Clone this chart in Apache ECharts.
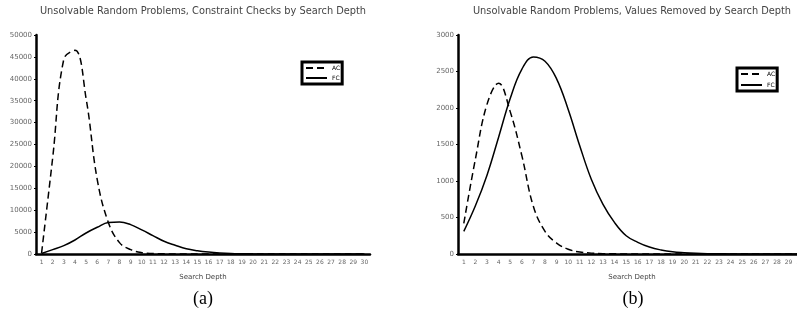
<!DOCTYPE html>
<html style="height: 100%">
<head>
    <meta charset="utf-8">
    <script src="https://cdn.jsdelivr.net/npm/echarts@6/dist/echarts.min.js"></script>
</head>
<body style="height: 100%; margin: 0; background: #fff;">
<div id="container" style="width: 797px; height: 313px;"></div>
<script type="text/javascript">
    // search depth categories
    var depthA = [];
    for (var i = 1; i <= 30; i++) depthA.push(String(i));
    var depthB = depthA.slice();

    // (a) constraint checks
    var acChecks = [200, 22000, 44500, 46500, 35500, 17000, 7200, 2600, 1000, 300,
                    100, 40, 15, 5, 0, 0, 0, 0, 0, 0, 0, 0, 0, 0, 0, 0, 0, 0, 0, 0];
    var fcChecks = [100, 1000, 1900, 3200, 4800, 6100, 7200, 7300, 6700, 5500,
                    4200, 2900, 2000, 1200, 750, 450, 250, 120, 60, 30,
                    15, 8, 4, 2, 0, 0, 0, 0, 0, 0];

    // (b) values removed
    var acRemoved = [420, 1300, 2050, 2340, 1950, 1350, 650, 310, 150, 65,
                     27, 12, 5, 2, 1, 0, 0, 0, 0, 0, 0, 0, 0, 0, 0, 0, 0, 0, 0, 0];
    var fcRemoved = [310, 660, 1080, 1600, 2130, 2530, 2700, 2640, 2400, 1980,
                     1480, 1020, 680, 430, 250, 160, 95, 55, 30, 18,
                     10, 5, 3, 1, 0, 0, 0, 0, 0, 0];

    var titleA = 'Unsolvable Random Problems, Constraint Checks by Search Depth';
    var titleB = 'Unsolvable Random Problems, Values Removed by Search Depth';

    var chart = echarts.init(document.getElementById('container'));
    var font = 'DejaVu Sans';

    function xAx(idx, cats) {
        return {
            type: 'category', gridIndex: idx, data: cats, boundaryGap: true,
            name: 'Search Depth', nameLocation: 'middle', nameGap: 20,
            nameTextStyle: {fontSize: 7, color: '#444', fontFamily: font},
            axisLine: {lineStyle: {color: '#000', width: 2.5}},
            axisTick: {length: 2, lineStyle: {color: '#000', width: 1.5}},
            axisLabel: {fontSize: 6, color: '#666', fontFamily: font, margin: 5, interval: 0}
        };
    }
    function yAx(idx, max, step) {
        return {
            type: 'value', gridIndex: idx, min: 0, max: max, interval: step,
            axisLine: {show: true, lineStyle: {color: '#000', width: 2.5}},
            axisTick: {show: true, length: 2, lineStyle: {color: '#000', width: 1}},
            axisLabel: {fontSize: 7, color: '#666', fontFamily: font, margin: 4,
                        formatter: function (v) { return String(v); }},
            splitLine: {show: false}
        };
    }
    function line(name, idx, data, dashed) {
        return {
            name: name, type: 'line', xAxisIndex: idx, yAxisIndex: idx,
            data: data, smooth: 0.4, symbol: 'none',
            lineStyle: {color: '#000', width: 1.5, type: dashed ? [7, 4] : 'solid'},
            itemStyle: {color: '#000'}
        };
    }
    function legendAt(left, top, gap) {
        return {
            left: left, top: top, orient: 'vertical', data: ['AC', 'FC'],
            itemWidth: 21, itemHeight: 5, itemGap: gap,
            padding: [3, 2, 3, 3],
            borderColor: '#000', borderWidth: 3, borderRadius: 0,
            itemStyle: {color: 'rgba(0,0,0,0)', borderWidth: 0, opacity: 0},
            textStyle: {fontSize: 6, color: '#000', fontFamily: font}
        };
    }

    var option = {
        animation: false,
        grid: [
            {left: 36, right: 427, top: 35, bottom: 59, outerBoundsMode: 'none'},
            {left: 458, right: -9, top: 35, bottom: 59, outerBoundsMode: 'none'}
        ],
        xAxis: [xAx(0, depthA), xAx(1, depthB)],
        yAxis: [yAx(0, 50000, 5000), yAx(1, 3000, 500)],
        legend: [legendAt(302, 62, 4), legendAt(737, 68, 5)],
        series: [
            line('AC', 0, acChecks, true),
            line('FC', 0, fcChecks, false),
            line('AC', 1, acRemoved, true),
            line('FC', 1, fcRemoved, false)
        ],
        graphic: [
            {type: 'text', x: 203, y: 11, style: {text: titleA, fontSize: 9.8, fontFamily: font, fill: '#444', align: 'center', verticalAlign: 'middle'}},
            {type: 'text', x: 632, y: 11, style: {text: titleB, fontSize: 9.8, fontFamily: font, fill: '#444', align: 'center', verticalAlign: 'middle'}},
            {type: 'text', x: 203, y: 299, style: {text: '(a)', fontSize: 18, fontFamily: 'Liberation Serif', fill: '#000', align: 'center', verticalAlign: 'middle'}},
            {type: 'text', x: 633, y: 299, style: {text: '(b)', fontSize: 18, fontFamily: 'Liberation Serif', fill: '#000', align: 'center', verticalAlign: 'middle'}}
        ]
    };
    chart.setOption(option);
</script>
</body>
</html>
